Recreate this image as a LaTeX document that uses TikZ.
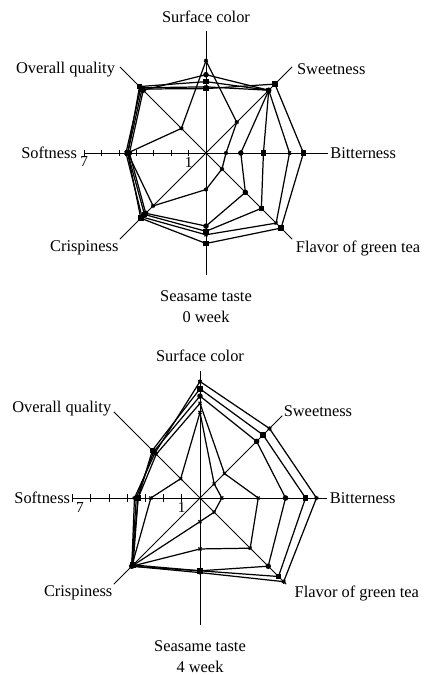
\documentclass[tikz,border=0pt]{standalone}
\usepackage{fontspec}
\setmainfont{Liberation Serif}
\usetikzlibrary{plotmarks}
\def\firstunit{0.522cm}
\def\secondunit{0.546cm}
\colorlet{axis edge}{black}
\colorlet{series edge}{black}
\tikzset{axisline/.style={draw=axis edge, line width=0.8pt},
    series/.style={draw=series edge, line width=1.05pt, mark size=1.8pt,
        mark options={solid, fill=series edge}},
    attribute/.style={font=\fontsize{14}{18}\selectfont, inner sep=1pt},
    scalemark/.style={font=\fontsize{13}{15}\selectfont, inner sep=1pt}}

\begin{document}
\begin{tikzpicture}[x=0.03cm, y=0.03cm]
    \useasboundingbox (0,0) rectangle (427,675);
    % 0 week
    \begin{scope}[shift={(206,522)}, x=\firstunit, y=\firstunit]
        \coordinate (o1) at (0,0);
        \foreach \ang/\name in {90/sc1, 45/sw1, 0/bi1, -45/fl1,
            -90/ss1, -135/cr1, 180/so1, 135/oq1}
            \coordinate (\name) at (\ang:7);
        \foreach \name in {sc1, sw1, bi1, fl1, ss1, cr1, so1, oq1}
            \draw[axisline] (o1) -- (\name);
        \foreach \i in {1,...,7}
            \draw[axisline] (-\i,-0.2) -- (-\i,0.2);
        \node[scalemark, below] (one1) at (-1,-0.15) {1};
        \node[scalemark, below] (seven1) at (-7,-0.15) {7};
        \draw[series, mark=asterisk] plot coordinates {(90:5.3) (45:2.5) (0:1.15) (-45:1.3)
            (-90:2.1) (-135:4.3) (180:4.5) (135:2.0)} -- cycle;
        \draw[series, mark=*] plot coordinates {(90:4.5) (45:5.1) (0:2.0) (-45:3.2)
            (-90:4.2) (-135:4.9) (180:4.4) (135:5.1)} -- cycle;
        \draw[series, mark=square*] plot coordinates {(90:4.1) (45:5.1) (0:3.3) (-45:4.5)
            (-90:4.5) (-135:5.0) (180:4.5) (135:5.4)} -- cycle;
        \draw[series, mark=x] plot coordinates {(90:3.8) (45:5.1) (0:4.8) (-45:5.7)
            (-90:4.7) (-135:5.2) (180:4.6) (135:5.3)} -- cycle;
        \draw[series, mark=square*] plot coordinates {(90:3.7) (45:5.6) (0:5.6) (-45:6.1)
            (-90:5.2) (-135:5.3) (180:4.5) (135:5.2)} -- cycle;
        \node[attribute, above=6pt] (sc1 text) at (sc1) {Surface color};
        \node[attribute, right=3pt, yshift=-2pt] (sw1 text) at (sw1) {Sweetness};
        \node[attribute, right=1pt] (bi1 text) at (bi1) {Bitterness};
        \node[attribute, anchor=north west, xshift=2pt] (fl1 text) at (fl1) {Flavor of green tea};
        \node[attribute, below=12pt, align=center] (ss1 text) at (ss1) {Seasame taste\\0 week};
        \node[attribute, anchor=north east] (cr1 text) at (cr1) {Crispiness};
        \node[attribute, left=5pt] (so1 text) at (so1) {Softness};
        \node[attribute, left=3pt, yshift=-2pt] (oq1 text) at (oq1) {Overall quality};
    \end{scope}
    % 4 week
    \begin{scope}[shift={(200,177)}, x=\secondunit, y=\secondunit]
        \coordinate (o2) at (0,0);
        \foreach \ang/\name/\len in {90/sc2/7, 45/sw2/6.4, 0/bi2/7, -45/fl2/6.7,
            -90/ss2/7, -135/cr2/6.7, 180/so2/7, 135/oq2/6.7}
            \coordinate (\name) at (\ang:\len);
        \foreach \name in {sc2, sw2, bi2, fl2, ss2, cr2, so2, oq2}
            \draw[axisline] (o2) -- (\name);
        \foreach \i in {1,...,7}
            \draw[axisline] (-\i,-0.2) -- (-\i,0.2);
        \node[scalemark, below] (one2) at (-1,-0.15) {1};
        \node[scalemark, below] (seven2) at (-6.6,-0.15) {7};
        \draw[series, mark=x] plot coordinates {(90:4.7) (45:1.1) (0:1.2) (-45:1.1)
            (-90:1.3) (-135:5.3) (180:2.7) (135:1.5)} -- cycle;
        \draw[series, mark=x] plot coordinates {(90:5.2) (45:1.9) (0:3.2) (-45:3.9)
            (-90:2.8) (-135:5.3) (180:3.4) (135:3.4)} -- cycle;
        \draw[series, mark=*] plot coordinates {(90:5.6) (45:4.4) (0:4.7) (-45:5.3)
            (-90:4.0) (-135:5.3) (180:3.5) (135:3.6)} -- cycle;
        \draw[series, mark=square*] plot coordinates {(90:6.0) (45:4.9) (0:5.8) (-45:6.1)
            (-90:4.0) (-135:5.2) (180:3.4) (135:3.7)} -- cycle;
        \draw[series, mark=asterisk] plot coordinates {(90:6.4) (45:5.4) (0:6.4) (-45:6.5)
            (-90:4.1) (-135:5.3) (180:3.6) (135:3.5)} -- cycle;
        \node[attribute, above=6pt] (sc2 text) at (sc2) {Surface color};
        \node[attribute, right=0pt, yshift=4pt] (sw2 text) at (sw2) {Sweetness};
        \node[attribute, right=1pt] (bi2 text) at (bi2) {Bitterness};
        \node[attribute, anchor=north west, xshift=6pt] (fl2 text) at (fl2) {Flavor of green tea};
        \node[attribute, below=12pt, align=center] (ss2 text) at (ss2) {Seasame taste\\4 week};
        \node[attribute, anchor=north east] (cr2 text) at (cr2) {Crispiness};
        \node[attribute, left=1pt] (so2 text) at (so2) {Softness};
        \node[attribute, left=1pt, yshift=3pt] (oq2 text) at (oq2) {Overall quality};
    \end{scope}
\end{tikzpicture}
\end{document}
